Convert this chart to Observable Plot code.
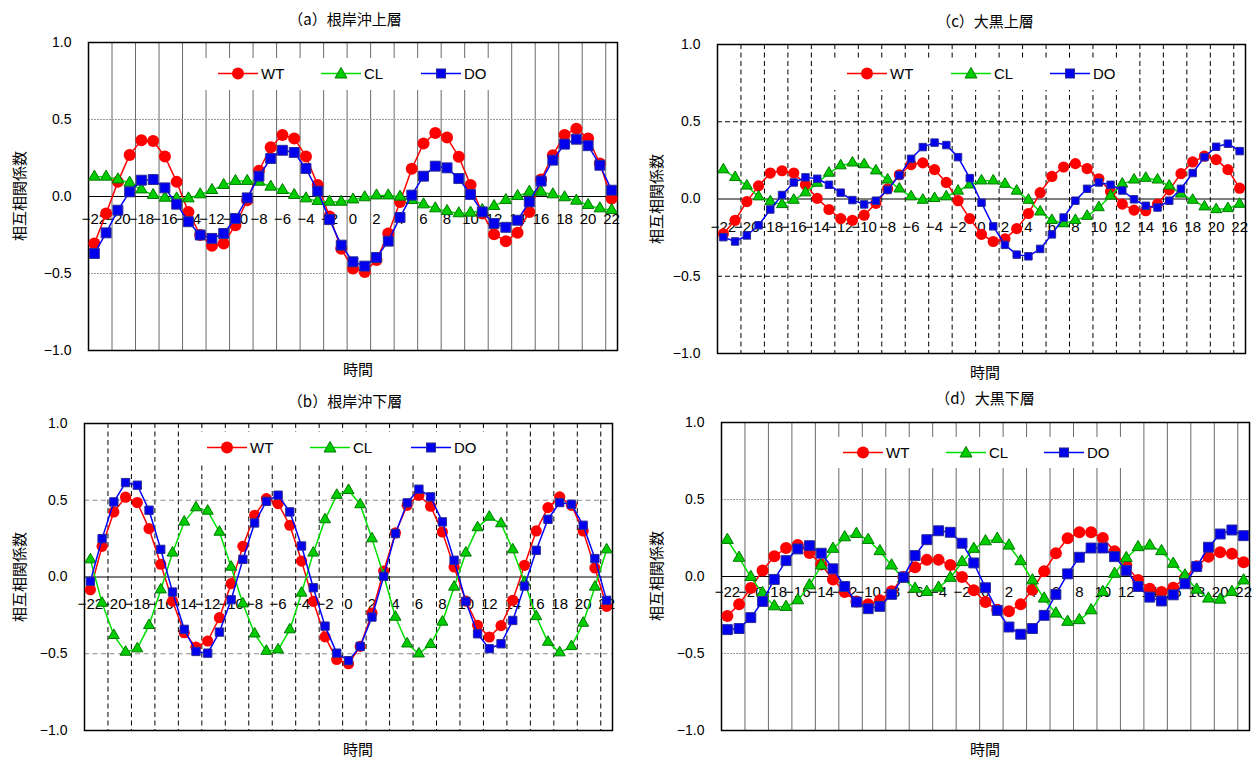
<!DOCTYPE html>
<html>
<head>
<meta charset="utf-8">
<script src="https://cdn.jsdelivr.net/npm/d3@7"></script>
<script src="https://cdn.jsdelivr.net/npm/@observablehq/plot@0.6"></script>
<style>
  body { margin: 0; background: #fff; }
  #root { position: relative; width: 1255px; height: 758px; background: #fff; overflow: hidden;
          font-family: "Noto Sans CJK JP", "Noto Sans", sans-serif; color: #000; }
  .panel { position: absolute; }
  .title, .xlab { position: absolute; font-size: 15px; transform: translate(-50%, -50%); white-space: nowrap; }
  .ylab { position: absolute; font-size: 15px; transform: translate(-50%, -50%) rotate(-90deg); white-space: nowrap; }
  .lbox { position: absolute; background: #fff; }
  .litem { position: absolute; display: flex; align-items: center; transform: translateY(-50%); }
  .litem span { font-family: "Liberation Sans", Arial, sans-serif; font-size: 15px; margin-left: 3px; }
</style>
</head>
<body>
<div id="root"></div>
<script>
// ---------- data ----------
const lags = [-22,-21,-20,-19,-18,-17,-16,-15,-14,-13,-12,-11,-10,-9,-8,-7,-6,-5,-4,-3,-2,-1,
              0,1,2,3,4,5,6,7,8,9,10,11,12,13,14,15,16,17,18,19,20,21,22];
const tickLags = [-22,-20,-18,-16,-14,-12,-10,-8,-6,-4,-2,0,2,4,6,8,10,12,14,16,18,20,22];
const yTicks = [-1, -0.5, 0, 0.5, 1];
const seriesNames = ["WT", "CL", "DO"];
const panelTitles = ["（a）根岸沖上層", "（b）根岸沖下層", "（c）大黒上層", "（d）大黒下層"];
const yTitle = "相互相関係数";
const xTitle = "時間";

// (a) 根岸沖上層
const a_WT = [-0.305,-0.11,0.095,0.27,0.366,0.36,0.26,0.095,-0.10,-0.25,-0.32,-0.305,-0.186,-0.024,0.167,0.32,0.40,0.377,0.26,0.074,-0.13,-0.34,
              -0.468,-0.49,-0.413,-0.24,-0.035,0.18,0.344,0.413,0.383,0.258,0.074,-0.11,-0.245,-0.29,-0.235,-0.10,0.11,0.268,0.40,0.44,0.377,0.214,-0.013];
const a_CL = [0.128,0.128,0.11,0.089,0.045,0.009,-0.009,-0.013,-0.013,0.013,0.041,0.074,0.10,0.10,0.095,0.063,0.041,0.009,-0.013,-0.03,-0.035,-0.035,
              -0.02,-0.006,0.006,0.006,-0.002,-0.024,-0.052,-0.078,-0.095,-0.11,-0.106,-0.089,-0.063,-0.024,0.002,0.03,0.03,0.013,-0.006,-0.028,-0.056,-0.078,-0.089];
const a_DO = [-0.37,-0.236,-0.089,0.03,0.106,0.11,0.056,-0.05,-0.164,-0.25,-0.272,-0.24,-0.143,-0.009,0.132,0.247,0.30,0.286,0.182,0.035,-0.15,-0.316,
              -0.424,-0.452,-0.396,-0.29,-0.136,0.009,0.132,0.197,0.186,0.117,0.013,-0.10,-0.175,-0.20,-0.154,-0.035,0.10,0.236,0.34,0.372,0.33,0.203,0.041];

// (b) 根岸沖下層
const b_WT = [-0.083,0.20,0.424,0.52,0.485,0.315,0.083,-0.157,-0.363,-0.457,-0.417,-0.265,-0.043,0.20,0.402,0.51,0.478,0.337,0.104,-0.159,-0.39,-0.537,
              -0.565,-0.452,-0.235,0.039,0.287,0.467,0.533,0.461,0.293,0.065,-0.157,-0.315,-0.391,-0.317,-0.152,0.076,0.30,0.452,0.522,0.467,0.30,0.059,-0.191];
const b_CL = [0.113,-0.17,-0.38,-0.489,-0.467,-0.315,-0.083,0.157,0.359,0.452,0.43,0.293,0.065,-0.174,-0.37,-0.483,-0.474,-0.343,-0.104,0.157,0.374,0.533,
              0.565,0.472,0.25,0.011,-0.261,-0.435,-0.50,-0.439,-0.293,-0.065,0.157,0.322,0.391,0.348,0.178,-0.033,-0.257,-0.424,-0.493,-0.452,-0.30,-0.065,0.178];
const b_DO = [-0.028,0.25,0.489,0.615,0.598,0.435,0.18,-0.098,-0.341,-0.485,-0.496,-0.359,-0.148,0.115,0.352,0.493,0.533,0.424,0.202,-0.07,-0.32,-0.496,
              -0.545,-0.452,-0.261,0.004,0.283,0.483,0.572,0.522,0.359,0.109,-0.159,-0.37,-0.467,-0.435,-0.283,-0.059,0.174,0.376,0.485,0.474,0.337,0.12,-0.152];

// (c) 大黒上層
const c_WT = [-0.225,-0.138,-0.017,0.085,0.168,0.183,0.168,0.092,0.004,-0.068,-0.127,-0.138,-0.105,-0.028,0.066,0.157,0.223,0.234,0.19,0.107,-0.011,-0.127,
              -0.229,-0.275,-0.258,-0.192,-0.094,0.041,0.146,0.207,0.229,0.197,0.131,0.048,-0.033,-0.072,-0.076,-0.033,0.059,0.164,0.24,0.277,0.255,0.19,0.07];
const c_CL = [0.19,0.14,0.085,0.015,-0.017,-0.035,-0.007,0.041,0.103,0.168,0.216,0.234,0.223,0.183,0.124,0.066,0.015,-0.007,0.004,0.015,0.052,0.092,
              0.118,0.118,0.096,0.052,-0.007,-0.083,-0.138,-0.159,-0.138,-0.111,-0.055,0.02,0.098,0.124,0.135,0.124,0.085,0.033,-0.007,-0.05,-0.068,-0.061,-0.033];
const c_DO = [-0.247,-0.275,-0.236,-0.17,-0.068,0.026,0.107,0.14,0.131,0.092,0.041,-0.007,-0.035,-0.011,0.059,0.153,0.26,0.336,0.365,0.349,0.271,0.135,
              -0.024,-0.177,-0.297,-0.36,-0.371,-0.323,-0.229,-0.12,-0.011,0.066,0.107,0.092,0.055,-0.002,-0.044,-0.055,-0.011,0.066,0.168,0.271,0.338,0.358,0.31];

// (d) 大黒下層
const d_WT = [-0.256,-0.181,-0.075,0.039,0.131,0.185,0.205,0.153,0.078,-0.019,-0.101,-0.162,-0.181,-0.155,-0.095,-0.004,0.06,0.108,0.108,0.075,-0.004,-0.09,
              -0.166,-0.216,-0.226,-0.181,-0.086,0.034,0.151,0.248,0.287,0.287,0.25,0.164,0.071,-0.022,-0.08,-0.101,-0.073,-0.009,0.067,0.129,0.157,0.147,0.093];
const d_CL = [0.237,0.121,-0.004,-0.108,-0.194,-0.198,-0.155,-0.058,0.071,0.179,0.254,0.276,0.237,0.164,0.071,-0.015,-0.08,-0.101,-0.073,-0.009,0.093,0.179,
              0.228,0.244,0.20,0.099,-0.026,-0.144,-0.241,-0.295,-0.284,-0.22,-0.101,0.017,0.119,0.19,0.20,0.164,0.082,0.006,-0.086,-0.144,-0.151,-0.101,-0.026];
const d_DO = [-0.345,-0.338,-0.267,-0.162,-0.019,0.103,0.179,0.20,0.151,0.05,-0.065,-0.166,-0.209,-0.194,-0.116,-0.004,0.136,0.239,0.297,0.287,0.216,0.088,
              -0.073,-0.22,-0.328,-0.375,-0.338,-0.252,-0.116,0.017,0.125,0.185,0.185,0.129,0.039,-0.065,-0.134,-0.159,-0.119,-0.047,0.065,0.19,0.276,0.302,0.265];

// ---------- styles / layout ----------
const seriesStyle = {
  WT: {line: "#ff0000", symbol: "circle",   fill: "#ff0000", stroke: "none"},
  CL: {line: "#00e000", symbol: "triangle", fill: "#00cc00", stroke: "#007a00"},
  DO: {line: "#0000ff", symbol: "square",   fill: "#0000ee", stroke: "#2a2a9a"}
};

const panels = [
  {data: {WT: a_WT, CL: a_CL, DO: a_DO}, left: 0, top: 0, width: 625, height: 382, mL: 88, mR: 8, mT: 42, mB: 32,
   tickDy: 23, vStroke: "#6a6a6a", vDash: null, hStroke: "#9a9a9a", hDash: "2,1",
   r: {WT: 6, CL: 4.3, DO: 5.6},
   title: [345, 18], xlab: [358, 368], ylab: [18, 196],
   box: [192, 58, 308, 32], legY: 73, legX: [218, 321, 421]},
  {data: {WT: b_WT, CL: b_CL, DO: b_DO}, left: 0, top: 380, width: 622, height: 378, mL: 84, mR: 10, mT: 43, mB: 28,
   tickDy: 27, vStroke: "#000", vDash: "5,3.5", hStroke: "#8a8a8a", hDash: "5,3.5",
   r: {WT: 5.6, CL: 4.1, DO: 4.7},
   title: [345, 400], xlab: [358, 748], ylab: [18, 577],
   box: [190, 432, 305, 31], legY: 447, legX: [207, 310, 411]},
  {data: {WT: c_WT, CL: c_CL, DO: c_DO}, left: 630, top: 0, width: 625, height: 383, mL: 87, mR: 10, mT: 44, mB: 30,
   tickDy: 28, vStroke: "#000", vDash: "5,3.5", hStroke: "#000", hDash: "5,3",
   r: {WT: 5.6, CL: 4.1, DO: 4.2},
   title: [985, 20], xlab: [985, 371], ylab: [655, 199],
   box: [825, 58, 305, 32], legY: 73, legX: [847, 951, 1050]},
  {data: {WT: d_WT, CL: d_CL, DO: d_DO}, left: 630, top: 380, width: 625, height: 378, mL: 91, mR: 6, mT: 42, mB: 28,
   tickDy: 16, vStroke: "#6a6a6a", vDash: null, hStroke: "#9a9a9a", hDash: "2,1",
   r: {WT: 6, CL: 4.4, DO: 5.6},
   title: [985, 397], xlab: [985, 748], ylab: [655, 576],
   box: [825, 437, 305, 31], legY: 452, legX: [843, 946, 1044]}
];

const root = document.getElementById("root");
const fmtY = d3.format(".1f");
const fmtX = d => d < 0 ? "\u2212" + Math.abs(d) : String(d);
const gridX = lags.filter((d, i) => i > 0 && i % 2 === 0).map(d => d - 0.5);

function legendSymbol(name) {
  const s = seriesStyle[name];
  let m = "";
  if (s.symbol === "circle") m = `<circle cx="20" cy="8" r="6" fill="${s.fill}"/>`;
  else if (s.symbol === "triangle") m = `<path d="M20,2L26,12.5L14,12.5Z" fill="${s.fill}" stroke="${s.stroke}" stroke-width="1"/>`;
  else m = `<rect x="15.5" y="3.5" width="9" height="9" fill="${s.fill}" stroke="${s.stroke}" stroke-width="1"/>`;
  return `<svg width="40" height="16" style="display:block"><line x1="0" y1="8" x2="40" y2="8" stroke="${s.line}" stroke-width="1.5"/>${m}</svg>`;
}

panels.forEach((p, pi) => {
  const rows = lags.map((lag, i) => ({lag, WT: p.data.WT[i], CL: p.data.CL[i], DO: p.data.DO[i]}));
  const seriesMarks = seriesNames.flatMap(name => {
    const s = seriesStyle[name];
    return [
      Plot.line(rows, {x: "lag", y: name, stroke: s.line, strokeWidth: 1.5}),
      Plot.dot(rows, {x: "lag", y: name, symbol: s.symbol, r: p.r[name], fill: s.fill,
                      stroke: s.stroke, strokeWidth: s.stroke === "none" ? 0 : 1})
    ];
  });
  const chart = Plot.plot({
    width: p.width, height: p.height,
    marginLeft: p.mL, marginRight: p.mR, marginTop: p.mT, marginBottom: p.mB,
    style: {fontFamily: "'Liberation Sans', Arial, sans-serif", fontSize: "14px", color: "#000", background: "transparent", overflow: "visible"},
    x: {domain: [-22.5, 22.5], axis: null},
    y: {domain: [-1, 1], ticks: yTicks, tickFormat: fmtY, tickSize: 0, tickPadding: 17, label: null},
    marks: [
      Plot.ruleX(gridX, {stroke: p.vStroke, strokeWidth: 1, strokeDasharray: p.vDash}),
      Plot.ruleY([-0.5, 0.5], {stroke: p.hStroke, strokeWidth: 1, strokeDasharray: p.hDash}),
      Plot.ruleY([0], {stroke: "#000", strokeWidth: 1}),
      Plot.frame({stroke: "#000", strokeWidth: 1.5}),
      Plot.text(tickLags, {x: d => d, y: 0, text: fmtX, dy: p.tickDy, fontSize: 15, lineAnchor: "middle", fill: "#000"}),
      ...seriesMarks
    ]
  });
  const wrap = document.createElement("div");
  wrap.className = "panel";
  wrap.style.left = p.left + "px";
  wrap.style.top = p.top + "px";
  wrap.appendChild(chart);
  root.appendChild(wrap);

  const t = document.createElement("div");
  t.className = "title"; t.textContent = panelTitles[pi];
  t.style.left = p.title[0] + "px"; t.style.top = p.title[1] + "px";
  root.appendChild(t);

  const xl = document.createElement("div");
  xl.className = "xlab"; xl.textContent = xTitle;
  xl.style.left = p.xlab[0] + "px"; xl.style.top = p.xlab[1] + "px";
  root.appendChild(xl);

  const yl = document.createElement("div");
  yl.className = "ylab"; yl.textContent = yTitle;
  yl.style.left = p.ylab[0] + "px"; yl.style.top = p.ylab[1] + "px";
  root.appendChild(yl);

  const box = document.createElement("div");
  box.className = "lbox";
  box.style.left = p.box[0] + "px"; box.style.top = p.box[1] + "px";
  box.style.width = p.box[2] + "px"; box.style.height = p.box[3] + "px";
  root.appendChild(box);

  seriesNames.forEach((name, k) => {
    const it = document.createElement("div");
    it.className = "litem";
    it.style.left = p.legX[k] + "px"; it.style.top = p.legY + "px";
    it.innerHTML = legendSymbol(name) + `<span>${name}</span>`;
    root.appendChild(it);
  });
});
</script>
</body>
</html>
